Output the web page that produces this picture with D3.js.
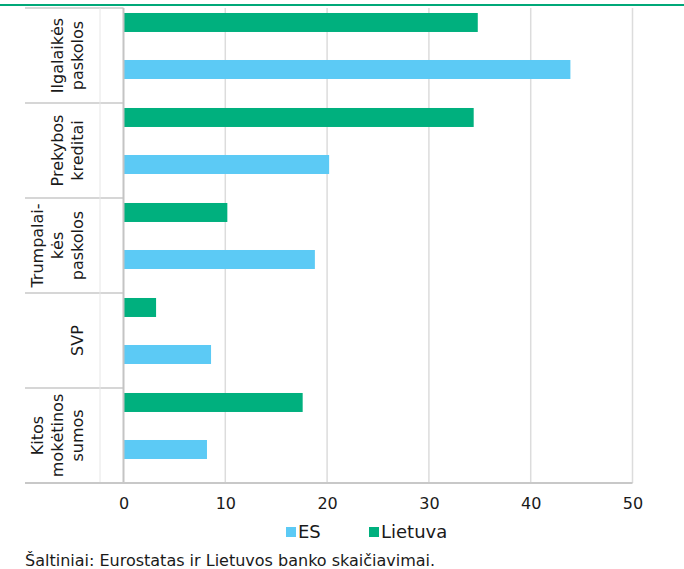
<!DOCTYPE html>
<html>
<head>
<meta charset="utf-8">
<script src="https://cdn.jsdelivr.net/npm/d3@7"></script>
<style>
  html, body { margin: 0; padding: 0; background: #fff; }
  svg { display: block; font-family: "DejaVu Sans", Verdana, sans-serif; }
</style>
</head>
<body>
<svg id="chart" width="684" height="569"></svg>
<script>
// Category groups (top to bottom), each label split into its lines
const categories = ["Ilgalaikės paskolos", "Prekybos kreditai", "Trumpalaikės paskolos", "SVP", "Kitos mokėtinos sumos"];
const categoryLines = [
  ["Ilgalaikės", "paskolos"],
  ["Prekybos", "kreditai"],
  ["Trumpalai-", "kės", "paskolos"],
  ["SVP"],
  ["Kitos", "mokėtinos", "sumos"]
];
const seriesNames = ["Lietuva", "ES"];
const lietuvaValues = [34.8, 34.4, 10.2, 3.2, 17.6];
const esValues = [43.9, 20.2, 18.8, 8.6, 8.2];
const xTicks = [0, 10, 20, 30, 40, 50];
const legendItems = ["ES", "Lietuva"];
const sourceText = "Šaltiniai: Eurostatas ir Lietuvos banko skaičiavimai.";

const colors = { "Lietuva": "#00b07e", "ES": "#5ccaf5" };

const svg = d3.select("#chart");
const W = 684;

const plot = { left: 123.5, right: 632.5, top: 8, bottom: 483 };

const x = d3.scaleLinear().domain([0, 50]).range([plot.left, plot.right]);
const y = d3.scaleBand().domain(categories).range([plot.top, plot.bottom]);
const ySub = d3.scaleBand().domain(seriesNames).range([0, y.bandwidth()])
  .paddingInner(0.596).paddingOuter(0.3085).align(0.172);

// top rule
svg.append("line")
  .attr("x1", 0).attr("x2", W).attr("y1", 5).attr("y2", 5)
  .attr("stroke", "#00a878").attr("stroke-width", 2);

// vertical gridlines
svg.append("g").selectAll("line").data(xTicks.filter(d => d > 0)).join("line")
  .attr("x1", d => x(d)).attr("x2", d => x(d))
  .attr("y1", plot.top).attr("y2", plot.bottom)
  .attr("stroke", "#dcdcdc").attr("stroke-width", 1.5);

// bars
const rows = categories.map((c, i) => ({ cat: c, Lietuva: lietuvaValues[i], ES: esValues[i] }));
const g = svg.append("g");
seriesNames.forEach(s => {
  g.selectAll("rect." + s).data(rows).join("rect")
    .attr("class", s)
    .attr("x", x(0))
    .attr("y", d => y(d.cat) + ySub(s))
    .attr("width", d => x(d[s]) - x(0))
    .attr("height", ySub.bandwidth())
    .attr("fill", colors[s]);
});

// category box lines
const boxLeft = 25, boxInner = 100;
const bounds = categories.map(c => y(c)).concat([plot.bottom]);
svg.append("g").selectAll("line").data(bounds).join("line")
  .attr("x1", boxLeft).attr("x2", plot.left)
  .attr("y1", d => d).attr("y2", d => d)
  .attr("stroke", "#c8c8c8").attr("stroke-width", 1.5);
svg.append("line")
  .attr("x1", boxInner).attr("x2", boxInner)
  .attr("y1", plot.top).attr("y2", plot.bottom)
  .attr("stroke", "#e6e6e6").attr("stroke-width", 1);

// axis lines
svg.append("line")
  .attr("x1", plot.left).attr("x2", plot.left)
  .attr("y1", plot.top).attr("y2", plot.bottom)
  .attr("stroke", "#c4c4c4").attr("stroke-width", 2);
svg.append("line")
  .attr("x1", boxLeft).attr("x2", plot.right)
  .attr("y1", plot.bottom).attr("y2", plot.bottom)
  .attr("stroke", "#c8c8c8").attr("stroke-width", 2);

// x tick labels
const xAxis = d3.axisBottom(x).tickValues(xTicks).tickSize(0).tickPadding(0).tickFormat(d3.format("d"));
const ax = svg.append("g").attr("transform", `translate(0,${plot.bottom})`).call(xAxis);
ax.select(".domain").remove();
ax.selectAll("text")
  .attr("y", 26).attr("dy", null)
  .attr("fill", "#1a1a1a")
  .style("font-size", "16px")
  .style("font-family", "'DejaVu Sans', Verdana, sans-serif");

// category labels, rotated
const lineH = 20;
const lastBaseline = 83;
categories.forEach((c, i) => {
  const lines = categoryLines[i];
  const cy = y(c) + y.bandwidth() / 2;
  const t = svg.append("text")
    .attr("transform", `translate(0,${cy}) rotate(-90)`)
    .attr("text-anchor", "middle")
    .attr("fill", "#1a1a1a")
    .style("font-size", "16px");
  lines.forEach((ln, j) => {
    t.append("tspan")
      .attr("x", 0)
      .attr("y", lastBaseline - (lines.length - 1 - j) * lineH)
      .text(ln);
  });
});

// legend
const legend = svg.append("g");
const legendX = [286, 369];
legendItems.forEach((name, i) => {
  legend.append("rect")
    .attr("x", legendX[i]).attr("y", 527)
    .attr("width", 10).attr("height", 10)
    .attr("fill", colors[name]);
  legend.append("text")
    .attr("x", legendX[i] + 12).attr("y", 538)
    .attr("fill", "#1a1a1a")
    .style("font-size", "18px")
    .text(name);
});

// source note
svg.append("text")
  .attr("x", 25).attr("y", 566)
  .attr("fill", "#1a1a1a")
  .style("font-size", "16px")
  .text(sourceText);
</script>
</body>
</html>
